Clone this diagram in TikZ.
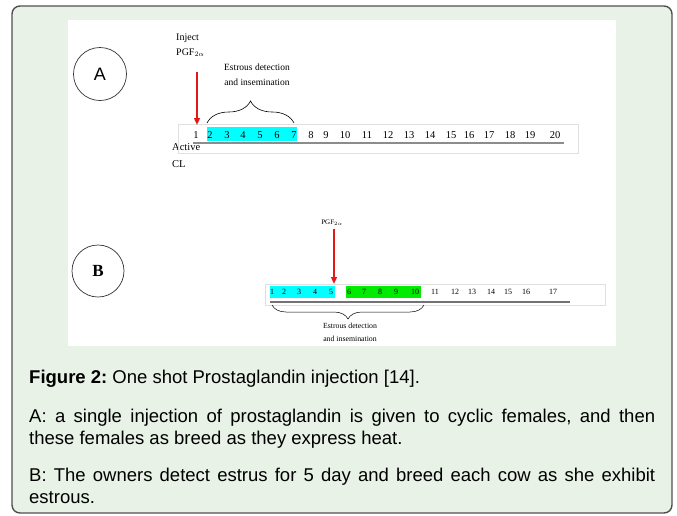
\documentclass[tikz,border=0pt]{standalone}
\usepackage{fontspec}
\setmainfont{Liberation Sans}
\newfontfamily\diagfont{Liberation Serif}
\usetikzlibrary{arrows.meta}
\usetikzlibrary{decorations.pathreplacing}
\usetikzlibrary{positioning}
\definecolor{panelgreen}{RGB}{232,242,230}
\definecolor{boxgray}{RGB}{80,80,80}
\definecolor{daycyan}{RGB}{0,255,255}
\definecolor{daygreen}{RGB}{0,235,0}
\definecolor{pgfred}{RGB}{228,24,24}
\tikzset{>={Triangle[length=2.4mm,width=2mm]}}
\tikzset{
    dayA/.style={font=\diagfont\fontsize{10.5}{12}\selectfont, inner sep=0pt},
    dayB/.style={font=\diagfont\fontsize{8}{10}\selectfont, inner sep=0pt},
    inject/.style={->, draw=pgfred, fill=pgfred, line width=2.4pt},
    caption/.style={anchor=base west, inner sep=0pt, text width=626pt, align=justify,
        font=\fontsize{18.5}{22}\selectfont\frenchspacing},
}

\begin{document}
\begin{tikzpicture}[x=1pt,y=-1pt] % one shot prostaglandin
	\useasboundingbox (0,0) rectangle (677,515);
	\draw[boxgray, line width=1.4pt, fill=panelgreen, rounded corners=8pt] (12,6) rectangle (672,513);
	\fill[white] (68,20) rectangle (616,346);
	% A: inject on day 1
	\node[circle, draw=black!80, line width=0.7pt, minimum size=53pt, inner sep=0pt, font=\fontsize{18}{18}\selectfont] (circA) at (100,74) {A};
	\node[anchor=west, align=left, inner sep=0pt, font=\diagfont\fontsize{10}{15}\selectfont] (injA) at (176,45) {Inject\\PGF$_{2\alpha}$};
	\node[anchor=west, align=left, inner sep=0pt, font=\diagfont\fontsize{10.5}{17}\selectfont] (clA) at (172,156) {Active\\CL};
	\node[align=center, inner sep=0pt, font=\diagfont\fontsize{9.5}{15}\selectfont] (estA) at (257,75) {Estrous detection\\and insemination};
	\draw[black!12] (178,124) rectangle (578,153);
	\fill[daycyan] (207,127) rectangle (297,141);
	\draw[black!45, line width=1.8pt] (193,143) -- (564,143);
	\foreach \n/\x in {1/196,2/210,3/227,4/243,5/260,6/277,7/294,8/311,9/326,10/345,11/367,12/388,13/409,14/430,15/451,16/469,17/489,18/510,19/530,20/555}
		\node[dayA] (a\n) at (\x,135) {\n};
	\coordinate (topA) at (197,72);
	\coordinate (tipA) at (197,125);
	\draw[inject] (topA) -- (tipA);
	\coordinate (brA1) at (207,123);
	\coordinate (brA2) at (294,123);
	\draw[decorate, decoration={brace, amplitude=22pt}, line width=0.6pt] (brA1) -- (brA2);
	% B: detect 5 days, then inject
	\node[circle, draw=black!80, line width=0.7pt, minimum size=52pt, inner sep=0pt, font=\diagfont\bfseries\fontsize{17}{17}\selectfont] (circB) at (98,271) {B};
	\node[inner sep=0pt, font=\diagfont\fontsize{7}{8}\selectfont] (injB) at (332,223) {PGF$_{2\alpha}$};
	\draw[black!12] (265,284) rectangle (605,305);
	\fill[daycyan] (270,286) rectangle (335,298);
	\fill[daygreen] (346,286) rectangle (421,298);
	\draw[black!55, line width=1.2pt] (270,302) -- (570,302);
	\foreach \n/\x in {1/272,2/284,3/299,4/315,5/331,6/349,7/364,8/380,9/396,10/415,11/435,12/455,13/472,14/491,15/508,16/526,17/553}
		\node[dayB] (b\n) at (\x,292) {\n};
	\coordinate (topB) at (334,229);
	\coordinate (tipB) at (334,284);
	\draw[inject, line width=2pt] (topB) -- (tipB);
	\coordinate (brB1) at (424,305);
	\coordinate (brB2) at (272,305);
	\draw[decorate, decoration={brace, amplitude=14pt}, line width=0.5pt] (brB1) -- (brB2);
	\node[align=center, inner sep=0pt, font=\diagfont\fontsize{7.8}{13}\selectfont] (estB) at (350,332) {Estrous detection\\and insemination};
	% caption
	\node[caption] (capFig) at (29,383) {\textbf{Figure 2:} One shot Prostaglandin injection [14].};
	\node[caption] (capA) at (29,422) {A: a single injection of prostaglandin is given to cyclic females, and then\linebreak these females as breed as they express heat.};
	\node[caption] (capB) at (29,481) {B: The owners detect estrus for 5 day and breed each cow as she exhibit estrous.};
\end{tikzpicture}
\end{document}
